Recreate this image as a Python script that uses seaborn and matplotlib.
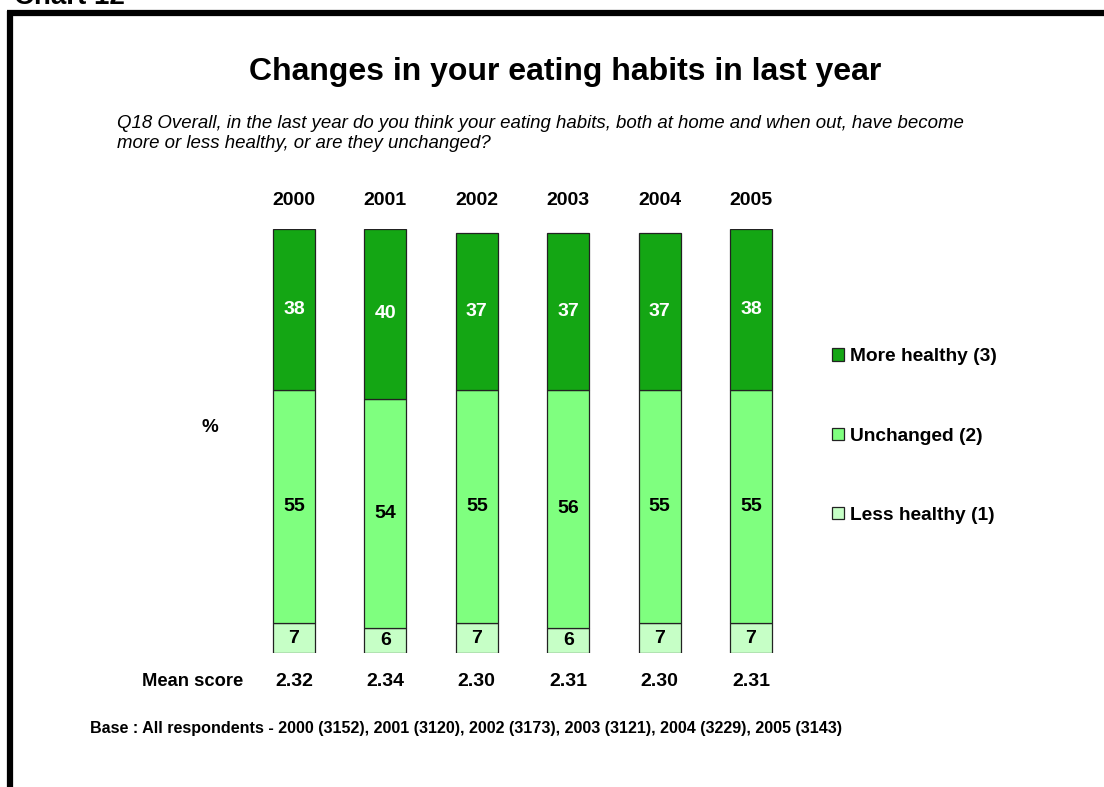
import matplotlib
matplotlib.use("Agg")
import matplotlib.pyplot as plt
import seaborn as sns
import pandas as pd
from matplotlib.patches import Patch
from matplotlib.lines import Line2D

# Survey data
years = ["2000", "2001", "2002", "2003", "2004", "2005"]
less_healthy = [7, 6, 7, 6, 7, 7]
unchanged = [55, 54, 55, 56, 55, 55]
more_healthy = [38, 40, 37, 37, 37, 38]
mean_scores = ["2.32", "2.34", "2.30", "2.31", "2.30", "2.31"]
series_labels = ["More healthy (3)", "Unchanged (2)", "Less healthy (1)"]

dark_green = "#14A614"
mid_green = "#7FFF7F"
light_green = "#C6FFC6"

sns.set_theme(style="white")
plt.rcParams["font.family"] = ["Liberation Sans", "DejaVu Sans"]
plt.rcParams["text.color"] = "black"

fig = plt.figure(figsize=(11.04, 7.87), dpi=100)
W, H = 1104, 787

def fx(px):
    return px / W

def fy(py):
    return 1 - py / H

ax = fig.add_axes([fx(248.3), fy(653), fx(548.4), 424 / H])

df = pd.DataFrame({
    "year": years,
    "less": less_healthy,
    "unch": unchanged,
    "more": more_healthy,
})
df["b_unch"] = df["less"]
df["b_more"] = df["less"] + df["unch"]

bar_kw = dict(width=0.46, edgecolor="#222222", linewidth=0.9, ax=ax, order=years)
sns.barplot(data=df, x="year", y="less", color=light_green, saturation=1, **bar_kw)
sns.barplot(data=df, x="year", y="unch", bottom=df["b_unch"], color=mid_green, saturation=1, **bar_kw)
sns.barplot(data=df, x="year", y="more", bottom=df["b_more"], color=dark_green, saturation=1, **bar_kw)

ax.set_xlim(-0.5, 5.5)
ax.set_ylim(0, 100)
ax.axis("off")

# Segment value labels
for i in range(len(years)):
    lo, mid, hi = less_healthy[i], unchanged[i], more_healthy[i]
    ax.text(i, lo / 2, str(lo), ha="center", va="center", fontsize=14,
            fontweight="bold", color="black")
    ax.text(i, lo + mid / 2, str(mid), ha="center", va="center", fontsize=14,
            fontweight="bold", color="black")
    ax.text(i, lo + mid + hi / 2, str(hi), ha="center", va="center", fontsize=14,
            fontweight="bold", color="white")

# Year headings and mean scores
xt = ax.get_xaxis_transform()
for i, (yr, ms) in enumerate(zip(years, mean_scores)):
    ax.text(i, (653 - 200) / 424, yr, transform=xt, ha="center", va="center",
            fontsize=14, fontweight="bold")
    ax.text(i, (653 - 681) / 424, ms, transform=xt, ha="center", va="center",
            fontsize=14, fontweight="bold")

fig.text(fx(193), fy(681), "Mean score", ha="center", va="center",
         fontsize=13.2, fontweight="bold")
fig.text(fx(210), fy(428), "%", ha="center", va="center",
         fontsize=13.5, fontweight="bold")

# Titles
fig.text(fx(565), fy(72), "Changes in your eating habits in last year",
         ha="center", va="center", fontsize=23, fontweight="bold")
fig.text(fx(117), fy(128), "Q18 Overall, in the last year do you think your eating habits, "
         "both at home and when out, have become", ha="left", va="baseline",
         fontsize=13.4, fontstyle="italic")
fig.text(fx(117), fy(148), "more or less healthy, or are they unchanged?",
         ha="left", va="baseline", fontsize=13.4, fontstyle="italic")

fig.text(fx(90), fy(728), "Base : All respondents - 2000 (3152), 2001 (3120), "
         "2002 (3173), 2003 (3121), 2004 (3229), 2005 (3143)",
         ha="left", va="center", fontsize=11.6, fontweight="bold")

# Page heading, partly cut by the top edge
fig.text(fx(14), fy(4), "Chart 12", ha="left", va="baseline",
         fontsize=20, fontweight="bold")

# Frame lines along top and left
fig.add_artist(Line2D([fx(7), 1.0], [fy(13), fy(13)], color="black", lw=4.5,
                      solid_capstyle="butt", transform=fig.transFigure))
fig.add_artist(Line2D([fx(9.5), fx(9.5)], [fy(10.5), 0.0], color="black", lw=4.5,
                      solid_capstyle="butt", transform=fig.transFigure))

# Legend
handles = [Patch(facecolor=c, edgecolor="#222222", linewidth=0.9)
           for c in (dark_green, mid_green, light_green)]
fig.legend(handles, series_labels, loc="upper left",
           bbox_to_anchor=(fx(815), fy(331)), frameon=False,
           prop={"size": 13.8, "weight": "bold"}, handlelength=0.6,
           handleheight=0.6, handletextpad=0.3, labelspacing=3.25)

fig.savefig("out.png", dpi=100)
